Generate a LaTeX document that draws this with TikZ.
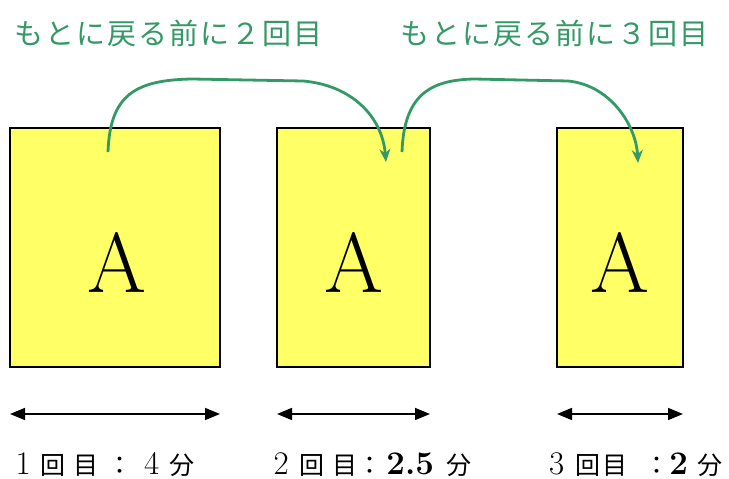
\documentclass[tikz,border=0pt]{standalone}
\usepackage{fontspec}
\usetikzlibrary{arrows.meta}
\newfontfamily\jpfont{Noto Sans CJK JP}
\definecolor{lnkgreen}{HTML}{339966}
\definecolor{boxyellow}{HTML}{FFFF66}
\newcommand\jt{\jpfont\fontsize{29}{30}\selectfont}
\newcommand\jb{\jpfont\fontsize{25}{28}\selectfont}
\newcommand\dg{\rmfamily\mdseries\fontsize{33}{33}\selectfont}
\newcommand\db{\rmfamily\bfseries\fontsize{33}{33}\selectfont}
\newcommand\tk{\kern2pt}
% place a glyph centred at an offset from the start of the label
\newcommand\pl[2]{\makebox[0pt][l]{\kern#1pt\makebox[0pt]{#2}}}
\tikzset{
  paper/.style={draw=black, line width=1.5pt, fill=boxyellow, inner sep=0pt, minimum height=239pt},
  bigA/.style={font=\fontsize{85}{85}\selectfont},
  span/.style={line width=1.6pt, {Triangle[length=15pt,width=12pt]}-{Triangle[length=15pt,width=12pt]}},
  loop/.style={draw=lnkgreen, line width=2.8pt, -{Stealth[length=13pt,width=11pt]}},
  toplabel/.style={text=lnkgreen, inner sep=0pt, anchor=base west},
  botlabel/.style={inner sep=0pt, anchor=base west}
}
\begin{document}
\begin{tikzpicture}[x=1pt,y=1pt]
\useasboundingbox (0,0) rectangle (729,-479);
% boxes
\node[paper, minimum width=210pt] (b1) at (115,-247.5) {};
\node[paper, minimum width=153pt] (b2) at (353.5,-247.5) {};
\node[paper, minimum width=126pt] (b3) at (620,-247.5) {};
\node[bigA] (a1) at (117,-262) {A};
\node[bigA] (a2) at (354,-262) {A};
\node[bigA] (a3) at (620,-262) {A};
% top labels
\node[toplabel] (t1) at (14.5,-44) {\jt も\tk と\tk に\tk 戻\tk る\tk 前\tk に\tk ２\tk 回\tk 目};
\node[toplabel] (t2) at (400.5,-44) {\jt も\tk と\tk に\tk 戻\tk る\tk 前\tk に\tk ３\tk 回\tk 目};
% curve anchors
\coordinate (s1) at (108,-152);
\coordinate (e1) at (386,-162);
\coordinate (s2) at (402,-152);
\coordinate (e2) at (638,-163);
\draw[loop] (s1) .. controls (110,-95) and (135,-80) .. (192,-79) -- (303,-81) .. controls (350,-85) and (382,-115) .. (e1);
\draw[loop] (s2) .. controls (404,-95) and (430,-80) .. (474,-79) -- (568,-81) .. controls (610,-85) and (636,-125) .. (e2);
% spans
\coordinate (l1) at (10,-414); \coordinate (r1) at (220,-414);
\coordinate (l2) at (277,-414); \coordinate (r2) at (430,-414);
\coordinate (l3) at (557,-414); \coordinate (r3) at (683,-414);
\draw[span] (l1) -- (r1);
\draw[span] (l2) -- (r2);
\draw[span] (l3) -- (r3);
% bottom labels
\node[botlabel] (c1) at (15,-474) {\pl{8}{\dg 1}\pl{37.5}{\jb 回}\pl{71}{\jb 目}\pl{105}{\jb ：}\pl{136.5}{\dg 4}\pl{166.5}{\jb 分}\kern185pt};
\node[botlabel] (c2) at (271,-474) {\pl{10}{\dg 2}\pl{40.5}{\jb 回}\pl{74}{\jb 目}\pl{98.5}{\jb ：}\pl{139}{\db 2.5}\pl{187.5}{\jb 分}\kern201pt};
\node[botlabel] (c3) at (546,-474) {\pl{10.5}{\dg 3}\pl{41.5}{\jb 回}\pl{69}{\jb 目}\pl{111}{\jb ：}\pl{132.5}{\db 2}\pl{163.5}{\jb 分}\kern178pt};
\end{tikzpicture}
\end{document}
